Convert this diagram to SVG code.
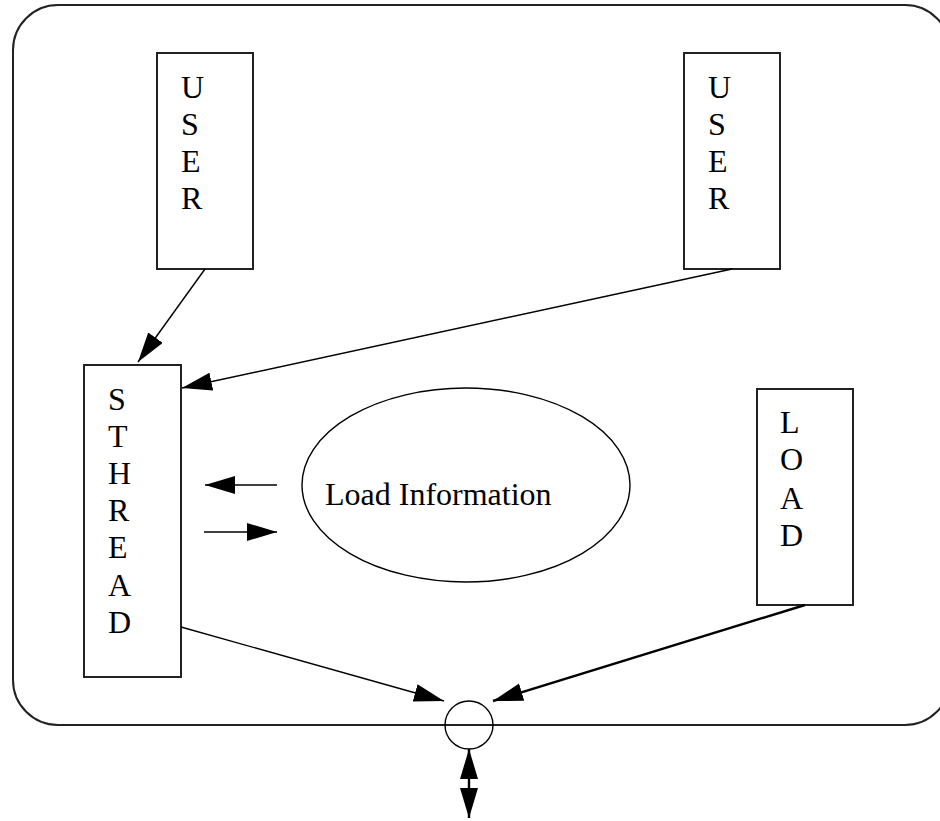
<svg xmlns="http://www.w3.org/2000/svg" width="940" height="821" viewBox="0 0 940 821">
  <defs>
    <style>
      .box { fill: #fff; stroke: #222; stroke-width: 2; }
      .frame { fill: none; stroke: #222; stroke-width: 2; }
      .link { fill: none; stroke: #000; stroke-width: 1.4; }
      .bold { stroke-width: 2.4; }
      .label { font-family: "Liberation Serif", "Times New Roman", serif; font-size: 32px; fill: #000; }
    </style>
    <marker id="head" markerUnits="userSpaceOnUse" markerWidth="32" markerHeight="20" refX="30" refY="9" orient="auto">
      <path d="M0,0 L30,9 L0,18 z" fill="#000"/>
    </marker>
    <marker id="headStart" markerUnits="userSpaceOnUse" markerWidth="32" markerHeight="20" refX="0" refY="9" orient="auto">
      <path d="M30,0 L0,9 L30,18 z" fill="#000"/>
    </marker>
  </defs>

  <rect width="940" height="821" fill="#fff"/>

  <!-- enclosing host boundary -->
  <rect class="frame" x="13" y="5" width="937" height="720" rx="45" ry="45"/>

  <g id="user-left">
    <rect class="box" x="157" y="53" width="96" height="216"/>
    <text class="label"><tspan x="181" y="98">U</tspan><tspan x="181" y="135">S</tspan><tspan x="181" y="172">E</tspan><tspan x="181" y="209">R</tspan></text>
  </g>

  <g id="user-right">
    <rect class="box" x="684" y="53" width="96" height="216"/>
    <text class="label"><tspan x="708" y="98">U</tspan><tspan x="708" y="135">S</tspan><tspan x="708" y="172">E</tspan><tspan x="708" y="209">R</tspan></text>
  </g>

  <g id="sthread">
    <rect class="box" x="84" y="365" width="97" height="312"/>
    <text class="label"><tspan x="108" y="410">S</tspan><tspan x="108" y="447">T</tspan><tspan x="108" y="484">H</tspan><tspan x="108" y="521">R</tspan><tspan x="108" y="558">E</tspan><tspan x="108" y="596">A</tspan><tspan x="108" y="633">D</tspan></text>
  </g>

  <g id="load">
    <rect class="box" x="757" y="389" width="96" height="216"/>
    <text class="label"><tspan x="780" y="433">L</tspan><tspan x="780" y="470">O</tspan><tspan x="780" y="509">A</tspan><tspan x="780" y="546">D</tspan></text>
  </g>

  <g id="load-information">
    <ellipse class="link" cx="466" cy="485" rx="164" ry="97"/>
    <text class="label" x="325" y="505">Load Information</text>
  </g>

  <g id="port">
    <circle class="link" cx="469" cy="725" r="24" fill="#fff"/>
  </g>

  <g id="connectors">
    <line class="link" x1="205" y1="269" x2="138" y2="362" marker-end="url(#head)"/>
    <line class="link" x1="732" y1="269" x2="182" y2="388" marker-end="url(#head)"/>
    <line class="link" x1="277" y1="485" x2="205" y2="485" marker-end="url(#head)"/>
    <line class="link" x1="204" y1="532" x2="277" y2="532" marker-end="url(#head)"/>
    <line class="link" x1="181" y1="627" x2="444" y2="701" marker-end="url(#head)"/>
    <line class="link bold" x1="805" y1="605" x2="493" y2="701" marker-end="url(#head)"/>
    <line class="link bold" x1="469" y1="749" x2="469" y2="818" marker-start="url(#headStart)" marker-end="url(#head)"/>
  </g>
</svg>
